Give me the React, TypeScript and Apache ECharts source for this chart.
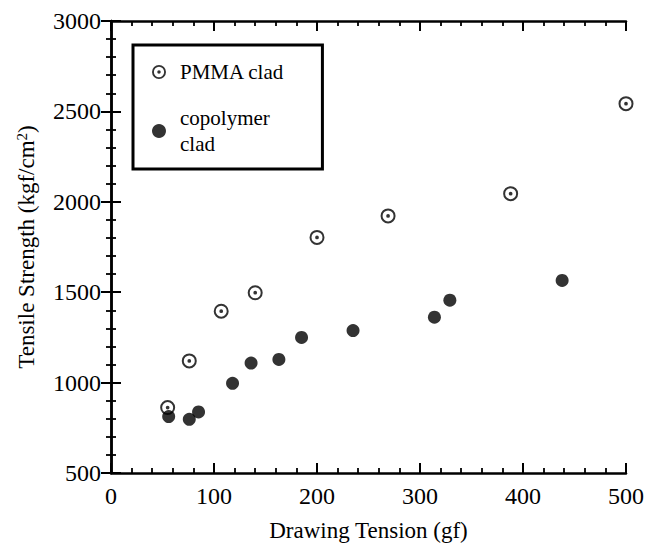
import React, { useEffect, useRef } from "react";
import * as echarts from "echarts";

const pmmaTension = [55, 76, 107, 140, 200, 269, 388, 500];
const pmmaStrength = [862, 1120, 1395, 1497, 1803, 1922, 2045, 2543];
const copoTension = [56, 76, 85, 118, 136, 163, 185, 235, 314, 329, 438];
const copoStrength = [812, 797, 838, 996, 1108, 1128, 1250, 1288, 1362, 1456, 1565];

const xTicks = [0, 500, 100];
const yTicks = [500, 3000, 500];

const FONT = "'Liberation Serif', 'DejaVu Serif', serif";
const DOT_CIRCLE =
  "path://M6,0 A6,6 0 1,1 6,12 A6,6 0 1,1 6,0 Z M6,1.6 A4.4,4.4 0 1,0 6,10.4 A4.4,4.4 0 1,0 6,1.6 Z M6,4.5 A1.5,1.5 0 1,1 6,7.5 A1.5,1.5 0 1,1 6,4.5 Z";

export default function App() {
  const ref = useRef<HTMLDivElement>(null);
  useEffect(() => {
    document.body.style.margin = "0";
    const chart = echarts.init(ref.current!, null, { renderer: "svg" });
    const axisCommon = {
      axisLine: { show: true, lineStyle: { color: "#000", width: 2.5 } },
      axisTick: { show: true, inside: true, length: 10, lineStyle: { color: "#000", width: 2 } },
      minorTick: { show: true, length: 5, splitNumber: 5, lineStyle: { color: "#000", width: 1.8 } },
      splitLine: { show: false },
    };
    const labelStyle = {
      fontFamily: FONT,
      fontSize: 24,
      color: "#000",
      formatter: (v: number) => String(v),
    };
    const xBase = { type: "value", min: xTicks[0], max: xTicks[1], interval: xTicks[2] };
    const yBase = { type: "value", min: yTicks[0], max: yTicks[1], interval: yTicks[2] };
    chart.setOption({
      animation: false,
      backgroundColor: "#fff",
      textStyle: { fontFamily: FONT, color: "#000" },
      grid: { left: 111, right: 20, top: 21, bottom: 73 },
      legend: {
        orient: "vertical",
        left: 133,
        top: 45,
        borderColor: "#000",
        borderWidth: 3,
        borderRadius: 0,
        padding: [14, 38, 12, 19],
        itemGap: 20,
        itemWidth: 14,
        itemHeight: 14,
        textStyle: { fontFamily: FONT, fontSize: 21, color: "#000", lineHeight: 26, padding: [0, 0, 0, 9] },
        data: [
          { name: "PMMA clad", icon: DOT_CIRCLE },
          { name: "copolymer\nclad", icon: "circle" },
        ],
      },
      xAxis: [
        {
          ...xBase,
          ...axisCommon,
          position: "bottom",
          name: "Drawing Tension (gf)",
          nameLocation: "middle",
          nameGap: 46,
          nameTextStyle: { fontFamily: FONT, fontSize: 23, color: "#000" },
          axisLabel: { ...labelStyle, margin: 11 },
        },
        {
          ...xBase,
          ...axisCommon,
          position: "top",
          axisLabel: { show: false },
        },
      ],
      yAxis: [
        {
          ...yBase,
          ...axisCommon,
          position: "left",
          name: "Tensile Strength (kgf/cm{sup|2})",
          nameLocation: "middle",
          nameGap: 72,
          nameTextStyle: {
            fontFamily: FONT,
            fontSize: 23,
            color: "#000",
            rich: { sup: { fontFamily: FONT, fontSize: 15, color: "#000", verticalAlign: "top", padding: [0, 0, 10, 0] } },
          },
          axisLabel: { ...labelStyle, margin: 10 },
        },
        {
          ...yBase,
          ...axisCommon,
          position: "right",
          axisLabel: { show: false },
        },
      ],
      series: [
        {
          name: "PMMA clad",
          type: "scatter",
          symbol: DOT_CIRCLE,
          symbolSize: 15,
          itemStyle: { color: "#000" },
          data: pmmaTension.map((t, i) => [t, pmmaStrength[i]]),
          z: 3,
        },
        {
          name: "copolymer\nclad",
          type: "scatter",
          symbol: "circle",
          symbolSize: 13,
          itemStyle: { color: "#000" },
          data: copoTension.map((t, i) => [t, copoStrength[i]]),
          z: 2,
        },
      ],
    });
    return () => chart.dispose();
  }, []);
  return <div ref={ref} style={{ width: 647, height: 547 }} />;
}
